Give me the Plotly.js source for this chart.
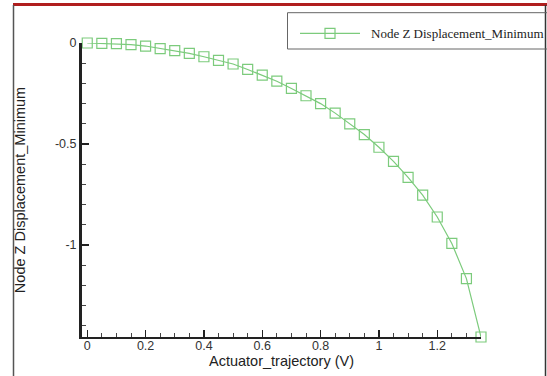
<!DOCTYPE html>
<html>
<head>
<meta charset="utf-8">
<script src="https://cdn.plot.ly/plotly-3.0.1.min.js"></script>
<style>html,body{margin:0;padding:0;background:#fff;}#chart{width:547px;height:376px;}</style>
</head>
<body>
<div id="chart"></div>
<script>
var seriesName = "Node Z Displacement_Minimum";
var voltage = [0, 0.05, 0.1, 0.15, 0.2, 0.25, 0.3, 0.35, 0.4, 0.45, 0.5, 0.55, 0.6, 0.65,
               0.7, 0.75, 0.8, 0.85, 0.9, 0.95, 1.0, 1.05, 1.1, 1.15, 1.2, 1.25, 1.3, 1.35];
var displacement = [0, -0.002, -0.003, -0.008, -0.015, -0.028, -0.038, -0.051, -0.068, -0.086,
                    -0.104, -0.131, -0.159, -0.189, -0.225, -0.261, -0.300, -0.347, -0.400,
                    -0.453, -0.516, -0.586, -0.665, -0.753, -0.861, -0.992, -1.166, -1.455];
var xTickVals = [0, 0.2, 0.4, 0.6, 0.8, 1, 1.2];
var xTickText = ["0", "0.2", "0.4", "0.6", "0.8", "1", "1.2"];
var yTickVals = [0, -0.5, -1];
var yTickText = ["0", "-0.5", "-1"];
var xTitle = "Actuator_trajectory (V)";
var yTitle = "Node Z Displacement_Minimum";

var green = "#7ccb7c";
var L = 82, R = 481, T = 43, B = 337;
function px(x){ return (x - L) / (R - L); }
function py(y){ return (B - y) / (B - T); }

var trace = {
  x: voltage, y: displacement, name: seriesName,
  mode: "lines+markers", cliponaxis: false,
  line: {color: green, width: 1.2},
  marker: {symbol: "square-open", size: 10, color: green, line: {width: 1.2, color: green}}
};

var tickFont = {family: "Liberation Sans, Arial, sans-serif", size: 12.5, color: "#333"};
var layout = {
  width: 547, height: 376,
  margin: {l: L, r: 547 - R, t: T, b: 376 - B, pad: 0},
  paper_bgcolor: "#fff", plot_bgcolor: "#fff",
  showlegend: false,
  xaxis: {
    range: [-0.018, 1.35], showgrid: false, zeroline: false,
    showline: true, linecolor: "#222", linewidth: 2,
    tickmode: "array", tickvals: xTickVals, ticktext: xTickText,
    ticks: "inside", ticklen: 7, tickwidth: 1.5, tickcolor: "#222",
    ticklabelstandoff: -4,
    minor: {tickmode: "linear", tick0: 0, dtick: 0.05, ticks: "inside", ticklen: 4, tickwidth: 1, tickcolor: "#444"},
    tickfont: tickFont,
    title: {text: xTitle, font: {family: "Liberation Sans, Arial, sans-serif", size: 14.5, color: "#222"}, standoff: 0}
  },
  yaxis: {
    range: [-1.455, 0], showgrid: false, zeroline: false,
    showline: true, linecolor: "#222", linewidth: 3,
    tickmode: "array", tickvals: yTickVals, ticktext: yTickText,
    ticks: "inside", ticklen: 7, tickwidth: 1.5, tickcolor: "#222",
    minor: {tickmode: "linear", tick0: 0, dtick: 0.1, ticks: "inside", ticklen: 4, tickwidth: 1, tickcolor: "#444"},
    tickfont: tickFont,
    title: {text: yTitle, font: {family: "Liberation Sans, Arial, sans-serif", size: 14.5, color: "#222"}, standoff: 26}
  },
  shapes: [
    {type: "line", xref: "paper", yref: "paper", x0: px(13), x1: px(547), y0: py(4.5), y1: py(4.5),
     line: {color: "#b01e1e", width: 3}},
    {type: "line", xref: "paper", yref: "paper", x0: px(13.5), x1: px(13.5), y0: py(5), y1: py(376),
     line: {color: "#555", width: 1.5}},
    {type: "line", xref: "paper", yref: "paper", x0: px(545.5), x1: px(545.5), y0: py(5), y1: py(376),
     line: {color: "#333", width: 1.5}},
    {type: "rect", xref: "paper", yref: "paper", x0: px(287.5), x1: px(560), y0: py(49), y1: py(12.7),
     line: {color: "#666", width: 1}, fillcolor: "rgba(0,0,0,0)"},
    {type: "line", xref: "paper", yref: "paper", x0: px(300), x1: px(360), y0: py(33.3), y1: py(33.3),
     line: {color: green, width: 1.2}},
    {type: "rect", xref: "paper", yref: "paper", x0: px(325), x1: px(335), y0: py(38.3), y1: py(28.3),
     line: {color: green, width: 1.2}, fillcolor: "rgba(0,0,0,0)"}
  ],
  annotations: [
    {xref: "paper", yref: "paper", x: px(369), y: py(33.3), xanchor: "left", yanchor: "middle",
     text: seriesName, showarrow: false,
     font: {family: "Liberation Serif, Times New Roman, serif", size: 13, color: "#222"}}
  ]
};

Plotly.newPlot("chart", [trace], layout, {staticPlot: true, displayModeBar: false});
</script>
</body>
</html>
